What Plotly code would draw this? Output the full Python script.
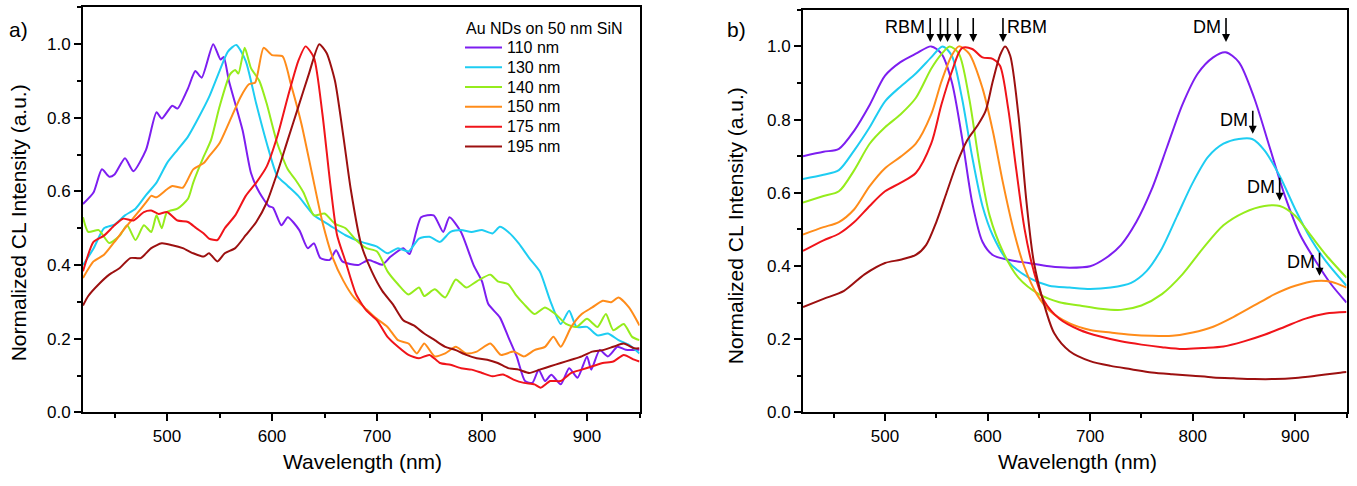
import plotly.graph_objects as go

# ---------------- Panel a) : measured CL spectra ----------------
a_110_x = [420,430,438,445,450,460,468,480,490,495,505,510,520,527,533,544,551,554,559,572,580,588,597,601,609,615,626,634,640,646,655,661,667,682,692,705,713,725,731,742,754,763,769,780,792,800,806,817,825,833,841,848,854,860,866,875,883,891,900,904,912,920,929,937,950]
a_110_y = [.566,.597,.66,.64,.646,.69,.655,.713,.815,.798,.833,.825,.88,.927,.909,1.0,.958,.965,.90,.766,.65,.597,.56,.556,.508,.53,.495,.446,.459,.419,.414,.44,.41,.40,.414,.401,.423,.446,.43,.53,.535,.49,.53,.49,.40,.356,.294,.258,.205,.152,.085,.08,.116,.085,.102,.076,.12,.094,.152,.116,.169,.152,.178,.17,.17]

a_130_x = [420,430,440,450,460,470,480,490,500,510,520,530,540,550,558,566,575,585,595,605,615,625,640,655,670,685,700,710,720,730,740,750,760,770,780,790,800,810,817,825,835,845,855,865,875,883,890,900,910,920,930,940,950]
a_130_y = [.40,.445,.50,.51,.535,.553,.59,.624,.677,.713,.749,.80,.856,.927,.98,.998,.954,.838,.731,.642,.615,.588,.535,.508,.481,.463,.45,.432,.446,.437,.472,.477,.463,.49,.495,.49,.495,.486,.504,.49,.459,.419,.383,.303,.24,.276,.232,.232,.209,.214,.196,.183,.16]

a_140_x = [420,425,435,445,455,462,470,478,485,490,495,500,510,520,525,535,542,550,560,565,568,574,580,588,595,605,615,622,630,640,650,660,670,680,690,700,710,720,730,740,745,755,765,775,785,795,808,815,825,832,840,850,860,870,880,890,900,910,918,925,935,943,950]
a_140_y = [.53,.49,.495,.46,.48,.508,.468,.508,.49,.535,.50,.544,.553,.58,.624,.695,.74,.83,.918,.93,.92,.99,.935,.90,.838,.731,.66,.633,.597,.535,.54,.512,.50,.468,.446,.437,.383,.348,.32,.339,.316,.334,.312,.361,.339,.356,.374,.356,.348,.32,.294,.267,.285,.267,.24,.232,.254,.232,.267,.223,.24,.205,.196]

a_150_x = [420,430,440,450,460,470,480,485,490,500,505,515,525,535,540,550,560,570,578,584,592,600,610,618,628,638,648,658,668,678,688,698,710,720,730,738,745,755,765,775,785,795,808,818,830,840,850,860,868,875,885,895,905,915,923,930,940,950]
a_150_y = [.365,.41,.428,.463,.50,.535,.57,.588,.584,.606,.615,.61,.66,.677,.695,.731,.793,.856,.891,.896,.99,.97,.967,.891,.784,.65,.517,.419,.357,.312,.285,.258,.232,.196,.187,.16,.187,.152,.16,.178,.16,.165,.187,.156,.165,.152,.169,.178,.205,.178,.232,.267,.285,.303,.299,.312,.285,.236]

a_175_x = [420,430,440,450,458,468,478,485,492,500,510,520,528,535,540,548,555,565,575,585,595,605,615,625,632,640,648,655,662,670,680,690,700,710,720,730,740,750,760,770,780,790,800,810,820,830,840,850,856,865,875,885,895,905,915,925,935,945,950]
a_175_y = [.383,.463,.48,.508,.526,.521,.544,.548,.539,.544,.521,.517,.50,.486,.472,.468,.50,.535,.588,.624,.668,.749,.856,.954,.994,.963,.811,.633,.481,.41,.321,.276,.25,.205,.178,.156,.147,.156,.134,.129,.12,.116,.107,.098,.103,.089,.08,.076,.067,.085,.085,.107,.116,.125,.134,.138,.156,.143,.138]

a_195_x = [420,425,435,445,455,465,475,485,495,505,515,525,535,540,548,555,565,575,585,595,605,615,625,635,645,652,660,668,675,685,695,705,715,725,735,745,755,765,775,785,795,805,815,825,835,845,855,865,875,885,895,905,915,925,935,945,950]
a_195_y = [.29,.316,.348,.374,.392,.419,.419,.446,.459,.454,.446,.432,.423,.432,.41,.432,.446,.481,.517,.57,.65,.74,.829,.918,1.0,.976,.90,.749,.606,.455,.383,.33,.294,.25,.236,.214,.196,.178,.169,.156,.147,.143,.134,.12,.116,.107,.116,.125,.134,.143,.152,.165,.169,.178,.187,.174,.174]

# ---------------- Panel b) : simulated spectra ----------------
b_110_x = [420,440,455,470,485,500,515,530,545,555,565,575,585,595,605,620,640,660,680,700,715,730,745,760,775,790,805,820,832,845,860,875,890,905,920,935,950]
b_110_y = [.70,.712,.72,.77,.84,.92,.957,.98,1.0,.98,.904,.752,.573,.466,.43,.417,.408,.399,.395,.399,.421,.457,.52,.609,.725,.841,.926,.97,.984,.957,.859,.725,.591,.484,.413,.35,.30]

b_130_x = [420,440,455,470,485,500,515,530,545,556,565,575,585,595,605,620,640,660,680,700,720,740,755,770,785,800,815,830,845,858,870,885,900,915,930,950]
b_130_y = [.6375,.649,.662,.716,.779,.85,.89,.926,.97,1.0,.975,.859,.698,.564,.484,.4125,.368,.346,.341,.337,.341,.354,.386,.448,.5375,.627,.698,.734,.747,.747,.716,.645,.555,.475,.4125,.346]

b_140_x = [420,440,455,470,485,500,515,530,545,555,563,572,582,592,602,615,630,650,670,690,710,730,750,770,790,810,830,850,870,885,900,915,930,950]
b_140_y = [.573,.591,.604,.662,.734,.779,.814,.859,.939,.979,1.0,.98,.859,.68,.5375,.439,.368,.323,.301,.292,.283,.28,.292,.323,.377,.448,.511,.546,.564,.564,.5375,.484,.43,.368]

b_150_x = [420,440,455,470,485,500,515,530,545,555,565,572,582,595,605,615,625,635,648,660,680,700,720,740,760,780,800,820,840,860,880,900,920,935,950]
b_150_y = [.486,.506,.52,.555,.618,.667,.698,.734,.814,.904,.975,1.0,.98,.886,.77,.627,.502,.404,.323,.279,.243,.225,.218,.212,.209,.209,.218,.234,.261,.292,.323,.346,.359,.357,.341]

b_175_x = [420,440,455,470,485,500,515,530,545,555,565,575,585,595,605,612,620,628,636,645,655,670,690,710,730,750,770,790,810,830,850,870,890,910,930,950]
b_175_y = [.441,.47,.488,.52,.564,.604,.627,.654,.734,.841,.93,.995,.993,.97,.966,.948,.832,.6625,.502,.386,.305,.256,.225,.207,.194,.185,.178,.173,.176,.18,.194,.212,.234,.256,.27,.274]

b_195_x = [420,440,460,480,500,515,530,540,550,560,570,580,590,598,605,612,617,622,630,638,645,655,665,680,700,720,740,760,780,800,820,840,860,880,900,920,940,950]
b_195_y = [.2875,.31,.332,.377,.408,.417,.43,.457,.52,.60,.68,.743,.783,.823,.904,.975,1.0,.975,.814,.573,.4125,.296,.216,.167,.14,.127,.118,.109,.104,.10,.0955,.093,.091,.091,.094,.10,.107,.11]

series_names = ["110 nm", "130 nm", "140 nm", "150 nm", "175 nm", "195 nm"]
series_colors = ["#7d1ef0", "#1ecdf2", "#95ec1c", "#ff8c1a", "#f0141a", "#9c1010"]
legend_title = "Au NDs on 50 nm SiN"

a_x = [a_110_x, a_130_x, a_140_x, a_150_x, a_175_x, a_195_x]
a_y = [a_110_y, a_130_y, a_140_y, a_150_y, a_175_y, a_195_y]
b_x = [b_110_x, b_130_x, b_140_x, b_150_x, b_175_x, b_195_x]
b_y = [b_110_y, b_130_y, b_140_y, b_150_y, b_175_y, b_195_y]

# annotation arrows in panel b
rbm_wl = [544, 554, 561, 571, 586, 615]
rbm_tip, rbm_tail = 1.012, 1.082
dm_wl = [832.5, 858.6, 884.8, 923.7]
dm_tip = [1.012, 0.761, 0.578, 0.373]
dm_tail = [1.082, 0.828, 0.645, 0.44]

x_range = [420, 950]
y_range = [0, 1.1]

FONT = "Arial, Liberation Sans, sans-serif"

fig = go.Figure()
for i in range(6):
    fig.add_trace(go.Scatter(x=a_x[i], y=a_y[i], mode="lines", name=series_names[i],
                             line=dict(color=series_colors[i], width=2, shape="spline", smoothing=0.6),
                             xaxis="x", yaxis="y", showlegend=False))
for i in range(6):
    fig.add_trace(go.Scatter(x=b_x[i], y=b_y[i], mode="lines", name=series_names[i],
                             line=dict(color=series_colors[i], width=2, shape="spline", smoothing=0.8),
                             xaxis="x2", yaxis="y2", showlegend=False))

W, H = 1357, 486
def px(v): return v / W
def py(v): return (H - v) / H

axis_common = dict(showline=True, linewidth=2, linecolor="black", mirror=True,
                   ticks="outside", ticklen=7, tickwidth=1.5, tickcolor="black",
                   showgrid=False, zeroline=False,
                   tickfont=dict(family=FONT, size=17, color="black"))

fig.update_layout(
    width=W, height=H,
    margin=dict(l=0, r=0, t=0, b=0),
    paper_bgcolor="white", plot_bgcolor="white",
    font=dict(family=FONT, color="black"),
    showlegend=False,
    xaxis=dict(domain=[px(83), px(639.5)], range=x_range, dtick=100, anchor="y",
               minor=dict(ticks="outside", ticklen=4, dtick=50, tickwidth=1.5, tickcolor="black"),
               **axis_common),
    yaxis=dict(domain=[py(421), py(7.5)], range=y_range, dtick=0.2, tickformat=".1f", anchor="x",
               minor=dict(ticks="outside", ticklen=4, dtick=0.1, tickwidth=1.5, tickcolor="black"),
               **axis_common),
    xaxis2=dict(domain=[px(803), px(1346.5)], range=x_range, dtick=100, anchor="y2",
                minor=dict(ticks="outside", ticklen=4, dtick=50, tickwidth=1.5, tickcolor="black"),
                **axis_common),
    yaxis2=dict(domain=[py(421), py(10)], range=y_range, dtick=0.2, tickformat=".1f", anchor="x2",
                minor=dict(ticks="outside", ticklen=4, dtick=0.1, tickwidth=1.5, tickcolor="black"),
                **axis_common),
)

ann = []
shapes = []
# legend drawn inside panel a
ann.append(dict(text=legend_title, x=px(464), y=py(29), xref="paper", yref="paper", xanchor="left",
                yanchor="middle", showarrow=False, font=dict(size=16, family=FONT)))
for i, (nm, col) in enumerate(zip(series_names, series_colors)):
    yy = py(48.5 + 20.2 * i)
    shapes.append(dict(type="line", xref="paper", yref="paper", x0=px(465), x1=px(502), y0=yy, y1=yy,
                       line=dict(color=col, width=2)))
    ann.append(dict(text=nm, x=px(505), y=yy, xref="paper", yref="paper", xanchor="left", yanchor="middle",
                    showarrow=False, font=dict(size=16, family=FONT)))
# panel labels
ann.append(dict(text="a)", x=px(7), y=py(30), xref="paper", yref="paper", xanchor="left", yanchor="middle",
                showarrow=False, font=dict(size=21, family=FONT)))
ann.append(dict(text="b)", x=px(725), y=py(30), xref="paper", yref="paper", xanchor="left", yanchor="middle",
                showarrow=False, font=dict(size=21, family=FONT)))
# axis titles
for xc, yc in [(18, 228), (735, 231)]:
    ann.append(dict(text="Normalized CL Intensity (a.u.)", x=px(xc), y=py(yc), xref="paper", yref="paper",
                    xanchor="center", yanchor="middle", textangle=-90, showarrow=False,
                    font=dict(size=21, family=FONT)))
for xc in [362, 1077]:
    ann.append(dict(text="Wavelength (nm)", x=px(xc), y=py(471), xref="paper", yref="paper",
                    xanchor="center", yanchor="middle", showarrow=False, font=dict(size=21, family=FONT)))
# RBM arrows
for wl in rbm_wl:
    ann.append(dict(x=wl, y=rbm_tip, ax=wl, ay=rbm_tail, xref="x2", yref="y2", axref="x2", ayref="y2",
                    text="", showarrow=True, arrowhead=2, arrowsize=1, arrowwidth=1.6, arrowcolor="black", standoff=0))
ann.append(dict(x=rbm_wl[0], y=(rbm_tip + rbm_tail) / 2 + 0.005, xref="x2", yref="y2", text="RBM",
                xanchor="right", yanchor="middle", xshift=-3, showarrow=False, font=dict(size=18, family=FONT)))
ann.append(dict(x=rbm_wl[-1], y=(rbm_tip + rbm_tail) / 2 + 0.005, xref="x2", yref="y2", text="RBM",
                xanchor="left", yanchor="middle", xshift=2, showarrow=False, font=dict(size=18, family=FONT)))
# DM arrows
for wl, tip, tail in zip(dm_wl, dm_tip, dm_tail):
    ann.append(dict(x=wl, y=tip, ax=wl, ay=tail, xref="x2", yref="y2", axref="x2", ayref="y2",
                    text="", showarrow=True, arrowhead=2, arrowsize=1, arrowwidth=1.6, arrowcolor="black", standoff=0))
    ann.append(dict(x=wl, y=(tip + tail) / 2 + 0.005, xref="x2", yref="y2", text="DM",
                    xanchor="right", yanchor="middle", xshift=-3, showarrow=False, font=dict(size=18, family=FONT)))
fig.update_layout(annotations=ann, shapes=shapes)

fig.write_html("out.html",
               config={"displayModeBar": False},
               post_script="document.body.style.margin='0';document.body.style.overflow='hidden';")
